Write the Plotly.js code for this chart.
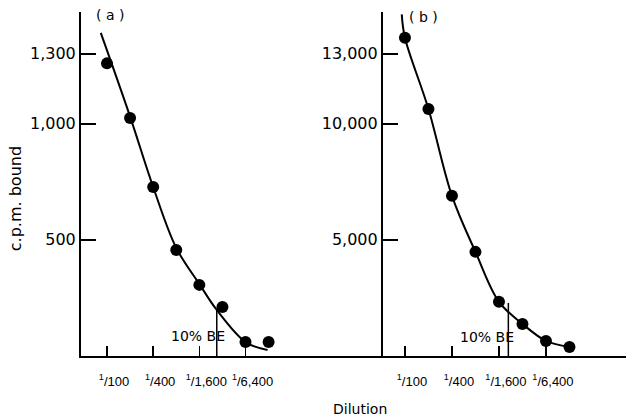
<!DOCTYPE html>
<html>
<head>
<meta charset="utf-8">
<script src="https://cdn.plot.ly/plotly-3.0.1.min.js"></script>
<style>html,body{margin:0;padding:0;background:#fff}#chart{width:626px;height:418px}</style>
</head>
<body>
<div id="chart"></div>
<script>
// Dilution (reciprocal) for each measured point
const dilutions = [100, 200, 400, 800, 1600, 3200, 6400, 12800];
// Panel (a) measured c.p.m. bound
const cpmA = [1259, 1024, 727, 456, 306, 211, 60, 60];
// Panel (b) measured c.p.m. bound
const cpmB = [13690, 10630, 6890, 4480, 2330, 1380, 650, 390];
// Hand-drawn fitted curves
const curveAx = [83, 200, 400, 800, 1600, 2700, 6400, 12400];
const curveAy = [1390, 1030, 727, 465, 310, 198, 60, 26];
const curveBx = [91, 100, 200, 400, 800, 1600, 3200, 6400, 12800];
const curveBy = [14700, 13690, 10630, 6890, 4480, 2330, 1380, 650, 390];
// 10% BE markers (dilution, c.p.m. at the curve)
const beA = [2700, 198];
const beB = [2110, 2280];
// Tick values / labels
const xTickVals = [100, 400, 1600, 6400];
const xTickText = ['<sup>1</sup>/100', '<sup>1</sup>/400', '<sup>1</sup>/1,600', '<sup>1</sup>/6,400'];
const yTickValsA = [500, 1000, 1300];
const yTickTextA = ['500', '1,000', '1,300'];
const yTickValsB = [5000, 10000, 13000];
const yTickTextB = ['5,000', '10,000', '13,000'];

const FONT = 'DejaVu Sans, sans-serif';
const TICKFONT = 'Liberation Sans, Arial, sans-serif';

const traces = [
  {x: curveAx, y: curveAy, xaxis: 'x', yaxis: 'y', mode: 'lines',
   line: {color: '#000', width: 2, shape: 'spline', smoothing: 1}, hoverinfo: 'skip'},
  {x: dilutions, y: cpmA, xaxis: 'x', yaxis: 'y', mode: 'markers',
   marker: {color: '#000', size: 12}},
  {x: curveBx, y: curveBy, xaxis: 'x2', yaxis: 'y2', mode: 'lines',
   line: {color: '#000', width: 2, shape: 'spline', smoothing: 1}, hoverinfo: 'skip'},
  {x: dilutions, y: cpmB, xaxis: 'x2', yaxis: 'y2', mode: 'markers',
   marker: {color: '#000', size: 12}}
];

const xCommon = {
  type: 'log', showline: true, linecolor: '#000', linewidth: 2,
  showgrid: false, zeroline: false, ticks: 'inside', ticklen: 10, tickwidth: 1.5, tickcolor: '#000',
  tickmode: 'array', tickvals: xTickVals, ticktext: xTickText, tickangle: 0,
  tickfont: {family: TICKFONT, size: 13, color: '#000'},
  ticklabelshift: 7, ticklabelstandoff: 12
};
const yCommon = {
  showline: true, linecolor: '#000', linewidth: 2, showgrid: false, zeroline: false,
  ticks: 'inside', ticklen: 15, tickwidth: 2, tickcolor: '#000', tickmode: 'array',
  tickfont: {family: FONT, size: 16, color: '#000'}
};

const layout = {
  width: 626, height: 418,
  margin: {l: 81, r: 0, t: 12, b: 62},
  paper_bgcolor: '#fff', plot_bgcolor: 'rgba(0,0,0,0)',
  showlegend: false,
  font: {family: FONT, color: '#000'},
  xaxis: Object.assign({}, xCommon, {domain: [0, 0.554], range: [1.661, 5.598], anchor: 'y'}),
  xaxis2: Object.assign({}, xCommon, {domain: [0.554, 1], range: [1.718, 4.831], anchor: 'y2'}),
  yaxis: Object.assign({}, yCommon, {range: [0, 1480], tickvals: yTickValsA, ticktext: yTickTextA, anchor: 'x'}),
  yaxis2: Object.assign({}, yCommon, {range: [0, 14800], tickvals: yTickValsB, ticktext: yTickTextB, anchor: 'x2'}),
  shapes: [
    {type: 'line', xref: 'x', yref: 'y', x0: beA[0], x1: beA[0], y0: 0, y1: beA[1], line: {color: '#000', width: 1.5}},
    {type: 'line', xref: 'x2', yref: 'y2', x0: beB[0], x1: beB[0], y0: 0, y1: beB[1], line: {color: '#000', width: 1.5}}
  ],
  annotations: [
    {text: '10% BE', xref: 'x', yref: 'y', x: Math.log10(beA[0]), y: 86, xanchor: 'right', xshift: 10,
     showarrow: false, font: {family: FONT, size: 14, color: '#000'}},
    {text: '10% BE', xref: 'x2', yref: 'y2', x: Math.log10(beB[0]), y: 818, xanchor: 'right', xshift: 8,
     showarrow: false, font: {family: FONT, size: 14, color: '#000'}},
    {text: '( a )', xref: 'paper', yref: 'paper', x: 0.053, y: 0.991, xanchor: 'center', yanchor: 'middle',
     showarrow: false, font: {family: FONT, size: 14, color: '#000'}},
    {text: '( b )', xref: 'paper', yref: 'paper', x: 0.628, y: 0.985, xanchor: 'center', yanchor: 'middle',
     showarrow: false, font: {family: FONT, size: 14, color: '#000'}},
    {text: 'c.p.m. bound', xref: 'paper', yref: 'paper', x: -0.121, y: 0.456, textangle: -90,
     xanchor: 'center', yanchor: 'middle',
     showarrow: false, font: {family: FONT, size: 16, color: '#000'}},
    {text: 'Dilution', xref: 'paper', yref: 'paper', x: 0.512, y: -0.154, xanchor: 'center', yanchor: 'middle',
     showarrow: false, font: {family: FONT, size: 14, color: '#000'}}
  ]
};

Plotly.newPlot('chart', traces, layout, {displayModeBar: false, staticPlot: true});
</script>
</body>
</html>
